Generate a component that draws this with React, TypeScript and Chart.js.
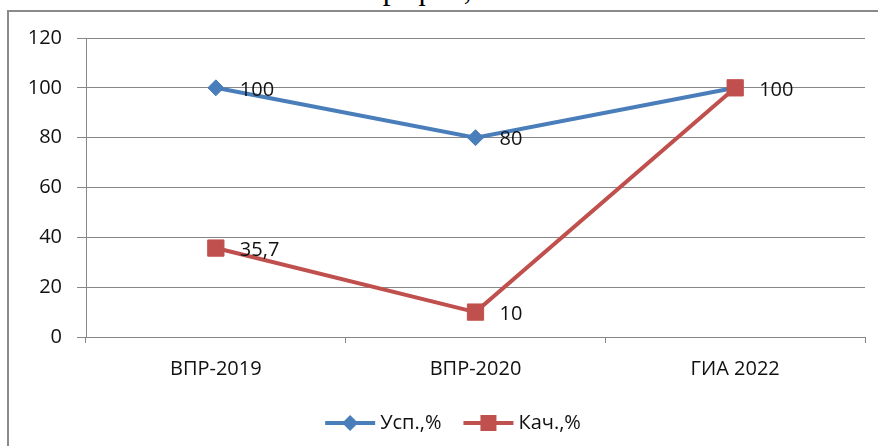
import React, { useEffect, useRef } from "react";
import { Chart, registerables } from "chart.js";

Chart.register(...registerables);

const categories = ["ВПР-2019", "ВПР-2020", "ГИА 2022"];
const seriesNames = ["Усп.,%", "Кач.,%"];
const uspValues = [100, 80, 100];
const kachValues = [35.7, 10, 100];
const uspLabels = ["100", "80", "100"];
const kachLabels = ["35,7", "10", "100"];
const yMin = 0;
const yMax = 120;
const yStep = 20;
const titleFragment = "график,";

const BLUE = "#4a7ebb";
const RED = "#c0504d";
const GRID = "#878787";
const FONT = "'Open Sans', 'Noto Sans', sans-serif";

const valueLabelsPlugin = {
  id: "valueLabels",
  afterDatasetsDraw(chart: any) {
    const ctx = chart.ctx;
    const all = [uspLabels, kachLabels];
    const drawn = new Set<string>();
    ctx.save();
    ctx.font = `20px ${FONT}`;
    ctx.fillStyle = "#111";
    ctx.textAlign = "left";
    ctx.textBaseline = "middle";
    chart.data.datasets.forEach((ds: any, i: number) => {
      const meta = chart.getDatasetMeta(i);
      meta.data.forEach((pt: any, j: number) => {
        const key = `${Math.round(pt.x)}_${Math.round(pt.y)}_${all[i][j]}`;
        if (drawn.has(key)) return;
        drawn.add(key);
        ctx.fillText(all[i][j], pt.x + 24, pt.y + 2);
      });
    });
    ctx.restore();
  },
};

const customLegendPlugin = {
  id: "customLegend",
  afterDraw(chart: any) {
    const ctx = chart.ctx;
    ctx.save();
    ctx.font = `20px ${FONT}`;
    const lineLen = 50;
    const gapText = 5;
    const gapItem = 22;
    const widths = seriesNames.map((n) => ctx.measureText(n).width);
    const total =
      widths.reduce((a, w) => a + lineLen + gapText + w, 0) + gapItem * (seriesNames.length - 1);
    const centerX = 453;
    const y = 423;
    let x = centerX - total / 2;
    seriesNames.forEach((name, i) => {
      const color = i === 0 ? BLUE : RED;
      ctx.strokeStyle = color;
      ctx.fillStyle = color;
      ctx.lineWidth = 4;
      ctx.beginPath();
      ctx.moveTo(x, y);
      ctx.lineTo(x + lineLen, y);
      ctx.stroke();
      const mx = x + lineLen / 2;
      if (i === 0) {
        ctx.beginPath();
        ctx.moveTo(mx, y - 8);
        ctx.lineTo(mx + 8, y);
        ctx.lineTo(mx, y + 8);
        ctx.lineTo(mx - 8, y);
        ctx.closePath();
        ctx.fill();
      } else {
        ctx.fillRect(mx - 8, y - 8, 16, 16);
      }
      ctx.fillStyle = "#111";
      ctx.textAlign = "left";
      ctx.textBaseline = "middle";
      ctx.fillText(name, x + lineLen + gapText, y);
      x += lineLen + gapText + widths[i] + gapItem;
    });
    ctx.restore();
  },
};

export default function App() {
  const canvasRef = useRef<HTMLCanvasElement | null>(null);

  useEffect(() => {
    if (!canvasRef.current) return;
    const chart = new Chart(canvasRef.current, {
      type: "line",
      data: {
        labels: categories,
        datasets: [
          {
            label: seriesNames[0],
            data: uspValues,
            borderColor: BLUE,
            backgroundColor: BLUE,
            borderWidth: 4,
            pointStyle: "rectRot",
            pointRadius: 8,
            pointBorderWidth: 1,
            pointBackgroundColor: BLUE,
            pointBorderColor: BLUE,
            tension: 0,
            order: 1,
          },
          {
            label: seriesNames[1],
            data: kachValues,
            borderColor: RED,
            backgroundColor: RED,
            borderWidth: 4,
            pointStyle: "rect",
            pointRadius: 11.5,
            pointBorderWidth: 1,
            pointBackgroundColor: RED,
            pointBorderColor: RED,
            tension: 0,
            order: 0,
          },
        ],
      },
      options: {
        animation: false,
        responsive: false,
        maintainAspectRatio: false,
        layout: { padding: { top: 38, right: 13, bottom: 0, left: 0 } },
        plugins: {
          legend: { display: false },
          tooltip: { enabled: false },
          title: { display: false },
        },
        scales: {
          x: {
            type: "category",
            offset: true,
            grid: {
              offset: true,
              drawOnChartArea: false,
              drawTicks: true,
              tickLength: 6,
              color: GRID,
              lineWidth: 1,
            },
            border: { display: true, color: GRID, width: 1 },
            ticks: {
              color: "#111",
              font: { family: FONT, size: 20 },
              padding: 14,
              maxRotation: 0,
            },
            afterFit(scale: any) {
              scale.height = 109;
            },
          },
          y: {
            min: yMin,
            max: yMax,
            ticks: {
              stepSize: yStep,
              color: "#111",
              font: { family: FONT, size: 20 },
              padding: 15,
            },
            grid: {
              color: GRID,
              lineWidth: 1,
              drawTicks: true,
              tickLength: 9,
            },
            border: { display: true, color: GRID, width: 1 },
            afterFit(scale: any) {
              scale.width = 86;
            },
          },
        },
      },
      plugins: [valueLabelsPlugin, customLegendPlugin],
    });
    return () => chart.destroy();
  }, []);

  return (
    <div
      style={{
        position: "fixed",
        left: 0,
        top: 0,
        width: 878,
        height: 446,
        overflow: "hidden",
        background: "#fff",
      }}
    >
      <div
        style={{
          position: "absolute",
          left: 7,
          top: 10,
          width: 1000,
          height: 1000,
          borderLeft: `2px solid #8a8a8a`,
          borderTop: `2px solid #8a8a8a`,
        }}
      />
      <span
        style={{
          position: "absolute",
          left: 370,
          top: -27,
          fontFamily: "'Liberation Serif', 'DejaVu Serif', serif",
          fontSize: 31,
          lineHeight: "31px",
          color: "#000",
          whiteSpace: "nowrap",
        }}
      >
        {titleFragment}
      </span>
      <canvas
        ref={canvasRef}
        width={878}
        height={446}
        style={{ position: "absolute", left: 0, top: 0, width: 878, height: 446 }}
      />
    </div>
  );
}
